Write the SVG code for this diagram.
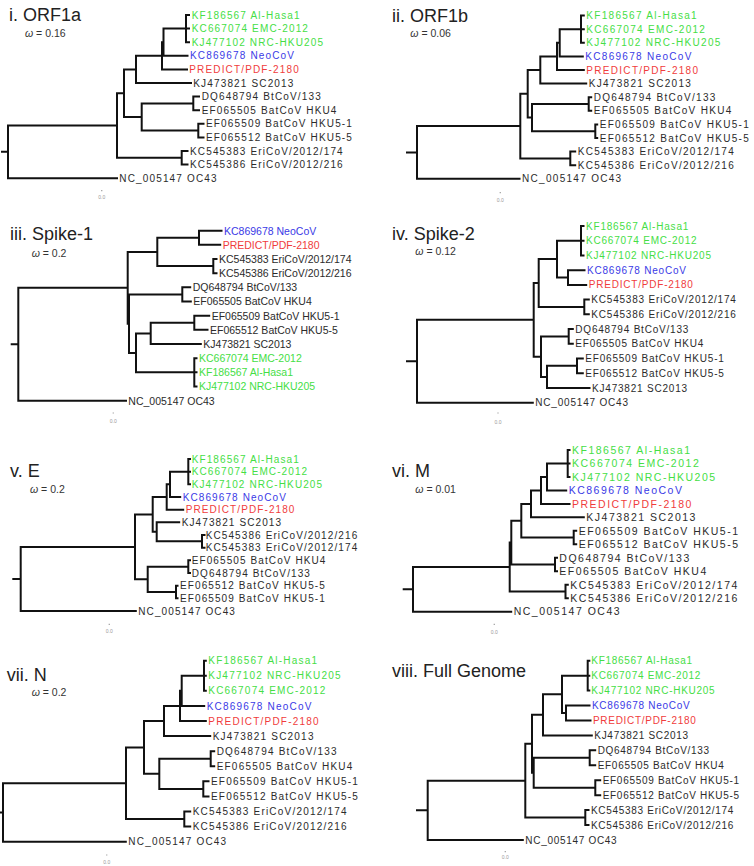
<svg xmlns="http://www.w3.org/2000/svg" width="754" height="866" viewBox="0 0 754 866">
<style>
text{font-family:"Liberation Sans",Arial,sans-serif}
.br{fill:none;stroke:#111;stroke-width:2;stroke-linecap:square}
.tk{fill:none;stroke:#aaa;stroke-width:1.2}
.lab{font-size:10px;fill:#2b2b2b}
.big{font-size:10.5px}
.g{fill:#45de45}.b{fill:#3a3ae6}.r{fill:#f03c3c}
.ttl{font-size:18px;fill:#222}
.om{font-size:10.5px;fill:#333}
.om tspan{font-style:italic}
.sc{font-size:5px;fill:#999;text-anchor:middle}
.s1{letter-spacing:1.15px}.s2{letter-spacing:1.3px}.s3{letter-spacing:0}.s4{letter-spacing:0.8px}
.s5{letter-spacing:1.1px}.s6{letter-spacing:1.5px}.s7{letter-spacing:1.2px}.s8{letter-spacing:0.7px}
</style>
<rect width="754" height="866" fill="#fff"/>
<g id="connectors">
<path class="br" d="M2,151.85H8M8,125.5V178.2M8,178.2H117M8,125.5H117M117,93.2V157.8M117,157.8H181.7M181.7,151V164.6M181.7,151H187.5M181.7,164.6H187.5M117,93.2H124M124,69.4V117M124,117H141.7M141.7,103.4V130.6M141.7,103.4H193.3M193.3,96.6V110.2M193.3,96.6H199M193.3,110.2H199M141.7,130.6H198.3M198.3,123.8V137.4M198.3,123.8H203.5M198.3,137.4H203.5M124,69.4H136M136,55.8V83M136,83H191M136,55.8H162M162,42.2V69.4M162,69.4H187M162,42.2H163.5M163.5,28.6V55.8M163.5,55.8H187.5M163.5,28.6H186M186,15V42.2M186,15H189M186,28.6H189M186,42.2H189"/>
<path class="br" d="M407,152.45H417M417,126.1V178.8M417,178.8H519.5M417,126.1H520.3M520.3,93.8V158.4M520.3,158.4H570.3M570.3,151.6V165.2M570.3,151.6H575.2M570.3,165.2H575.2M520.3,93.8H527.7M527.7,70V117.6M527.7,117.6H532M532,104V131.2M532,104H588.7M588.7,97.2V110.8M588.7,97.2H591.2M588.7,110.8H591.2M532,131.2H595.3M595.3,124.4V138M595.3,124.4H597.2M595.3,138H597.2M527.7,70H540.3M540.3,56.4V83.6M540.3,83.6H586.2M540.3,56.4H557M557,42.8V70M557,70H583.8M557,42.8H559.7M559.7,29.2V56.4M559.7,56.4H582.8M559.7,29.2H581M581,15.6V42.8M581,15.6H583.8M581,29.2H583.8M581,42.8H583.8"/>
<path class="br" d="M11.7,344.26H18.3M18.3,287.81V400.7M18.3,400.7H126M18.3,287.81H127.7M127.7,251.95V323.67M127.7,251.95H157.3M157.3,237.78V266.12M157.3,237.78H199M199,230.7V244.87M199,230.7H221.5M199,244.87H220.2M157.3,266.12H213.3M213.3,259.03V273.2M213.3,259.03H216.5M213.3,273.2H216.5M127.7,323.67H129M129,294.45V352.89M129,294.45H182.3M182.3,287.37V301.53M182.3,287.37H190.2M182.3,301.53H190.8M129,352.89H136M136,333.41V372.37M136,333.41H150.7M150.7,322.78V344.03M150.7,322.78H194.3M194.3,315.7V329.87M194.3,315.7H209.2M194.3,329.87H207.5M150.7,344.03H200.8M136,372.37H194.3M194.3,358.2V386.53M194.3,358.2H196.5M194.3,372.37H196.5M194.3,386.53H196.5"/>
<path class="br" d="M407,361.24H417M417,319.84V402.64M417,402.64H532.8M417,319.84H533.7M533.7,283.04V356.64M533.7,283.04H538.7M538.7,259.12V306.96M538.7,259.12H557M557,240.72V277.52M557,240.72H581M581,226V255.44M581,226H583.5M581,240.72H583.5M581,255.44H583.5M557,277.52H568M568,270.16V284.88M568,270.16H584.5M568,284.88H586.2M538.7,306.96H584.3M584.3,299.6V314.32M584.3,299.6H588.8M584.3,314.32H588.8M533.7,356.64H541M541,336.4V376.88M541,336.4H568.7M568.7,329.04V343.76M568.7,329.04H572.8M568.7,343.76H572.8M541,376.88H547M547,365.84V387.92M547,365.84H577M577,358.48V373.2M577,358.48H582.8M577,373.2H582.8M547,387.92H589.5"/>
<path class="br" d="M13.3,578.94H20.7M20.7,546.88V611M20.7,611H135.8M20.7,546.88H135M135,514.42V579.33M135,514.42H152.7M152.7,497V531.83M152.7,497H166.7M166.7,484.33V509.67M166.7,509.67H183.2M166.7,484.33H170M170,471.67V497M170,497H180.2M170,471.67H188.3M188.3,459V484.33M188.3,459H190M188.3,471.67H190M188.3,484.33H190M152.7,531.83H156.7M156.7,522.33V541.33M156.7,522.33H179.2M156.7,541.33H202M202,535V547.67M202,535H204.5M202,547.67H204.5M135,579.33H147.7M147.7,566.67V592M147.7,566.67H188.3M188.3,560.33V573M188.3,560.33H190M188.3,573H190M147.7,592H176M176,585.67V598.33M176,585.67H177.5M176,598.33H177.5"/>
<path class="br" d="M403.7,589.33H413M413,567.02V611.64M413,611.64H511.2M413,567.02H509.7M509.7,542.61V591.44M509.7,542.61H511.3M511.3,520.72V564.5M511.3,520.72H521.3M521.3,503.88V537.56M521.3,503.88H531M531,490.41V517.35M531,517.35H583.8M531,490.41H541M541,476.94V503.88M541,503.88H569.5M541,476.94H547M547,463.47V490.41M547,490.41H566.2M547,463.47H567.7M567.7,450V476.94M567.7,450H569.5M567.7,463.47H569.5M567.7,476.94H569.5M521.3,537.56H573.7M573.7,530.82V544.29M573.7,530.82H576.2M573.7,544.29H576.2M511.3,564.5H555M555,557.76V571.23M555,557.76H557M555,571.23H557M509.7,591.44H565.5M565.5,584.7V598.17M565.5,584.7H567.8M565.5,598.17H567.8"/>
<path class="br" d="M0,812.44H3M3,783.23V841.66M3,841.66H125.8M3,783.23H126M126,747.41V819.04M126,819.04H184.3M184.3,811.5V826.58M184.3,811.5H190.2M184.3,826.58H190.2M126,747.41H144M144,721.02V773.8M144,773.8H159.3M159.3,758.72V788.88M159.3,758.72H210.7M210.7,751.18V766.26M210.7,751.18H214.2M210.7,766.26H214.2M159.3,788.88H203.3M203.3,781.34V796.42M203.3,781.34H208.5M203.3,796.42H208.5M144,721.02H164M164,705.94V736.1M164,736.1H210.2M164,705.94H180M180,690.86V721.02M180,721.02H205.8M180,690.86H181.7M181.7,675.78V705.94M181.7,705.94H204.2M181.7,675.78H204M204,660.7V690.86M204,660.7H205.8M204,675.78H205.8M204,690.86H205.8"/>
<path class="br" d="M417,810.34H427.7M427.7,780.69V839.98M427.7,839.98H522.8M427.7,780.69H525.3M525.3,743.81V817.57M525.3,817.57H585.3M585.3,810.1V825.04M585.3,810.1H588.5M585.3,825.04H588.5M525.3,743.81H532M532,714.86V772.75M532,772.75H533.7M533.7,757.81V787.69M533.7,757.81H589.7M589.7,750.34V765.28M589.7,750.34H595.2M589.7,765.28H595.2M533.7,787.69H595.3M595.3,780.22V795.16M595.3,780.22H600.2M595.3,795.16H600.2M532,714.86H543M543,694.32V735.4M543,735.4H591.8M543,694.32H562M562,675.64V712.99M562,675.64H587.7M587.7,660.7V690.58M587.7,660.7H589.3M587.7,675.64H589.3M587.7,690.58H589.3M562,712.99H566M566,705.52V720.46M566,705.52H589.5M566,720.46H590.5"/>
<path class="tk" d="M101,190.7H102.4M499.6,192.7H501M112.6,413H114M497.3,413H498.7M108.6,624.3H110M493.6,624.3H495M106,855H107.4M504.6,851.7H506"/>
</g>
<g id="panel-i" class="lab s1">
<g id="i-title"><text class="ttl" x="9" y="21" letter-spacing="0">i. ORF1a</text></g>
<g id="i-omega"><text class="om" x="25" y="37" letter-spacing="0"><tspan>ω</tspan> = 0.16</text></g>
<g id="i-KF186567"><text class="g" x="191.7" y="18.6">KF186567 Al-Hasa1</text></g>
<g id="i-KC667074"><text class="g" x="191.7" y="32.2">KC667074 EMC-2012</text></g>
<g id="i-KJ477102"><text class="g" x="191.7" y="45.8">KJ477102 NRC-HKU205</text></g>
<g id="i-KC869678"><text class="b" x="190" y="59.4">KC869678 NeoCoV</text></g>
<g id="i-PREDICT"><text class="r" x="189.3" y="73">PREDICT/PDF-2180</text></g>
<g id="i-KJ473821"><text x="193.3" y="86.6">KJ473821 SC2013</text></g>
<g id="i-DQ648794"><text x="201.7" y="100.2">DQ648794 BtCoV/133</text></g>
<g id="i-EF065505"><text x="201.7" y="113.8">EF065505 BatCoV HKU4</text></g>
<g id="i-EF065509"><text x="206" y="127.4">EF065509 BatCoV HKU5-1</text></g>
<g id="i-EF065512"><text x="206" y="141">EF065512 BatCoV HKU5-5</text></g>
<g id="i-KC545383"><text x="190" y="154.6">KC545383 EriCoV/2012/174</text></g>
<g id="i-KC545386"><text x="190" y="168.2">KC545386 EriCoV/2012/216</text></g>
<g id="i-NC005147"><text x="119.3" y="181.8">NC_005147 OC43</text></g>
<g id="i-scale"><text class="sc" x="101.7" y="199" letter-spacing="0">0.0</text></g>
</g>
<g id="panel-ii" class="lab s2">
<g id="ii-title"><text class="ttl" x="392" y="21.7" letter-spacing="0">ii. ORF1b</text></g>
<g id="ii-omega"><text class="om" x="410.3" y="37" letter-spacing="0"><tspan>ω</tspan> = 0.06</text></g>
<g id="ii-KF186567"><text class="g" x="586.3" y="19.2">KF186567 Al-Hasa1</text></g>
<g id="ii-KC667074"><text class="g" x="586.3" y="32.8">KC667074 EMC-2012</text></g>
<g id="ii-KJ477102"><text class="g" x="586.3" y="46.4">KJ477102 NRC-HKU205</text></g>
<g id="ii-KC869678"><text class="b" x="585.3" y="60">KC869678 NeoCoV</text></g>
<g id="ii-PREDICT"><text class="r" x="586.3" y="73.6">PREDICT/PDF-2180</text></g>
<g id="ii-KJ473821"><text x="588.7" y="87.2">KJ473821 SC2013</text></g>
<g id="ii-DQ648794"><text x="593.7" y="100.8">DQ648794 BtCoV/133</text></g>
<g id="ii-EF065505"><text x="593.7" y="114.4">EF065505 BatCoV HKU4</text></g>
<g id="ii-EF065509"><text x="599.7" y="128">EF065509 BatCoV HKU5-1</text></g>
<g id="ii-EF065512"><text x="599.7" y="141.6">EF065512 BatCoV HKU5-5</text></g>
<g id="ii-KC545383"><text x="577.7" y="155.2">KC545383 EriCoV/2012/174</text></g>
<g id="ii-KC545386"><text x="577.7" y="168.8">KC545386 EriCoV/2012/216</text></g>
<g id="ii-NC005147"><text x="522" y="182.4">NC_005147 OC43</text></g>
<g id="ii-scale"><text class="sc" x="500.3" y="201.7" letter-spacing="0">0.0</text></g>
</g>
<g id="panel-iii" class="lab big s3">
<g id="iii-title"><text class="ttl" x="10" y="240">iii. Spike-1</text></g>
<g id="iii-omega"><text class="om" x="31.7" y="256.7"><tspan>ω</tspan> = 0.2</text></g>
<g id="iii-KC869678"><text class="b" x="224" y="234.5">KC869678 NeoCoV</text></g>
<g id="iii-PREDICT"><text class="r" x="222.7" y="248.67">PREDICT/PDF-2180</text></g>
<g id="iii-KC545383"><text x="219" y="262.83">KC545383 EriCoV/2012/174</text></g>
<g id="iii-KC545386"><text x="219" y="277">KC545386 EriCoV/2012/216</text></g>
<g id="iii-DQ648794"><text x="192.7" y="291.17">DQ648794 BtCoV/133</text></g>
<g id="iii-EF065505"><text x="193.3" y="305.33">EF065505 BatCoV HKU4</text></g>
<g id="iii-EF065509"><text x="211.7" y="319.5">EF065509 BatCoV HKU5-1</text></g>
<g id="iii-EF065512"><text x="210" y="333.67">EF065512 BatCoV HKU5-5</text></g>
<g id="iii-KJ473821"><text x="203.3" y="347.83">KJ473821 SC2013</text></g>
<g id="iii-KC667074"><text class="g" x="199" y="362">KC667074 EMC-2012</text></g>
<g id="iii-KF186567"><text class="g" x="199" y="376.17">KF186567 Al-Hasa1</text></g>
<g id="iii-KJ477102"><text class="g" x="199" y="390.33">KJ477102 NRC-HKU205</text></g>
<g id="iii-NC005147"><text x="128.3" y="404.5">NC_005147 OC43</text></g>
<g id="iii-scale"><text class="sc" x="113.3" y="422.5">0.0</text></g>
</g>
<g id="panel-iv" class="lab s4">
<g id="iv-title"><text class="ttl" x="392" y="240" letter-spacing="0">iv. Spike-2</text></g>
<g id="iv-omega"><text class="om" x="415.3" y="255" letter-spacing="0"><tspan>ω</tspan> = 0.12</text></g>
<g id="iv-KF186567"><text class="g" x="586" y="229.6">KF186567 Al-Hasa1</text></g>
<g id="iv-KC667074"><text class="g" x="586" y="244.32">KC667074 EMC-2012</text></g>
<g id="iv-KJ477102"><text class="g" x="586" y="259.04">KJ477102 NRC-HKU205</text></g>
<g id="iv-KC869678"><text class="b" x="587" y="273.76">KC869678 NeoCoV</text></g>
<g id="iv-PREDICT"><text class="r" x="588.7" y="288.48">PREDICT/PDF-2180</text></g>
<g id="iv-KC545383"><text x="591.3" y="303.2">KC545383 EriCoV/2012/174</text></g>
<g id="iv-KC545386"><text x="591.3" y="317.92">KC545386 EriCoV/2012/216</text></g>
<g id="iv-DQ648794"><text x="575.3" y="332.64">DQ648794 BtCoV/133</text></g>
<g id="iv-EF065505"><text x="575.3" y="347.36">EF065505 BatCoV HKU4</text></g>
<g id="iv-EF065509"><text x="585.3" y="362.08">EF065509 BatCoV HKU5-1</text></g>
<g id="iv-EF065512"><text x="585.3" y="376.8">EF065512 BatCoV HKU5-5</text></g>
<g id="iv-KJ473821"><text x="592" y="391.52">KJ473821 SC2013</text></g>
<g id="iv-NC005147"><text x="535.3" y="406.24">NC_005147 OC43</text></g>
<g id="iv-scale"><text class="sc" x="498" y="423.5" letter-spacing="0">0.0</text></g>
</g>
<g id="panel-v" class="lab s5">
<g id="v-title"><text class="ttl" x="10" y="476.7" letter-spacing="0">v. E</text></g>
<g id="v-omega"><text class="om" x="30" y="492.8" letter-spacing="0"><tspan>ω</tspan> = 0.2</text></g>
<g id="v-KF186567"><text class="g" x="191.7" y="462.6">KF186567 Al-Hasa1</text></g>
<g id="v-KC667074"><text class="g" x="191.7" y="475.27">KC667074 EMC-2012</text></g>
<g id="v-KJ477102"><text class="g" x="191.7" y="487.93">KJ477102 NRC-HKU205</text></g>
<g id="v-KC869678"><text class="b" x="182.7" y="500.6">KC869678 NeoCoV</text></g>
<g id="v-PREDICT"><text class="r" x="185.7" y="513.27">PREDICT/PDF-2180</text></g>
<g id="v-KJ473821"><text x="181.7" y="525.93">KJ473821 SC2013</text></g>
<g id="v-KC545386"><text x="205.7" y="538.6">KC545386 EriCoV/2012/216</text></g>
<g id="v-KC545383"><text x="205.7" y="551.27">KC545383 EriCoV/2012/174</text></g>
<g id="v-EF065505"><text x="191.7" y="563.93">EF065505 BatCoV HKU4</text></g>
<g id="v-DQ648794"><text x="191.7" y="576.6">DQ648794 BtCoV/133</text></g>
<g id="v-EF065512"><text x="180" y="589.27">EF065512 BatCoV HKU5-5</text></g>
<g id="v-EF065509"><text x="180" y="601.93">EF065509 BatCoV HKU5-1</text></g>
<g id="v-NC005147"><text x="138.3" y="614.6">NC_005147 OC43</text></g>
<g id="v-scale"><text class="sc" x="109.3" y="632.5" letter-spacing="0">0.0</text></g>
</g>
<g id="panel-vi" class="lab big s6">
<g id="vi-title"><text class="ttl" x="392" y="477.3" letter-spacing="0">vi. M</text></g>
<g id="vi-omega"><text class="om" x="415.3" y="492.7" letter-spacing="0"><tspan>ω</tspan> = 0.01</text></g>
<g id="vi-KF186567"><text class="g" x="572" y="453.8">KF186567 Al-Hasa1</text></g>
<g id="vi-KC667074"><text class="g" x="572" y="467.27">KC667074 EMC-2012</text></g>
<g id="vi-KJ477102"><text class="g" x="572" y="480.74">KJ477102 NRC-HKU205</text></g>
<g id="vi-KC869678"><text class="b" x="568.7" y="494.21">KC869678 NeoCoV</text></g>
<g id="vi-PREDICT"><text class="r" x="572" y="507.68">PREDICT/PDF-2180</text></g>
<g id="vi-KJ473821"><text x="586.3" y="521.15">KJ473821 SC2013</text></g>
<g id="vi-EF065509"><text x="578.7" y="534.62">EF065509 BatCoV HKU5-1</text></g>
<g id="vi-EF065512"><text x="578.7" y="548.09">EF065512 BatCoV HKU5-5</text></g>
<g id="vi-DQ648794"><text x="559.3" y="561.56">DQ648794 BtCoV/133</text></g>
<g id="vi-EF065505"><text x="559.3" y="575.03">EF065505 BatCoV HKU4</text></g>
<g id="vi-KC545383"><text x="570.3" y="588.5">KC545383 EriCoV/2012/174</text></g>
<g id="vi-KC545386"><text x="570.3" y="601.97">KC545386 EriCoV/2012/216</text></g>
<g id="vi-NC005147"><text x="513.7" y="615.44">NC_005147 OC43</text></g>
<g id="vi-scale"><text class="sc" x="494.3" y="633.5" letter-spacing="0">0.0</text></g>
</g>
<g id="panel-vii" class="lab s7">
<g id="vii-title"><text class="ttl" x="6.7" y="680.7" letter-spacing="0">vii. N</text></g>
<g id="vii-omega"><text class="om" x="31.7" y="696" letter-spacing="0"><tspan>ω</tspan> = 0.2</text></g>
<g id="vii-KF186567"><text class="g" x="208.3" y="664.3">KF186567 Al-Hasa1</text></g>
<g id="vii-KJ477102"><text class="g" x="208.3" y="679.38">KJ477102 NRC-HKU205</text></g>
<g id="vii-KC667074"><text class="g" x="208.3" y="694.46">KC667074 EMC-2012</text></g>
<g id="vii-KC869678"><text class="b" x="206.7" y="709.54">KC869678 NeoCoV</text></g>
<g id="vii-PREDICT"><text class="r" x="208.3" y="724.62">PREDICT/PDF-2180</text></g>
<g id="vii-KJ473821"><text x="212.7" y="739.7">KJ473821 SC2013</text></g>
<g id="vii-DQ648794"><text x="216.7" y="754.78">DQ648794 BtCoV/133</text></g>
<g id="vii-EF065505"><text x="216.7" y="769.86">EF065505 BatCoV HKU4</text></g>
<g id="vii-EF065509"><text x="211" y="784.94">EF065509 BatCoV HKU5-1</text></g>
<g id="vii-EF065512"><text x="211" y="800.02">EF065512 BatCoV HKU5-5</text></g>
<g id="vii-KC545383"><text x="192.7" y="815.1">KC545383 EriCoV/2012/174</text></g>
<g id="vii-KC545386"><text x="192.7" y="830.18">KC545386 EriCoV/2012/216</text></g>
<g id="vii-NC005147"><text x="128.3" y="845.26">NC_005147 OC43</text></g>
<g id="vii-scale"><text class="sc" x="106.7" y="864" letter-spacing="0">0.0</text></g>
</g>
<g id="panel-viii" class="lab s8">
<g id="viii-title"><text class="ttl" x="392" y="676.7" letter-spacing="0">viii. Full Genome</text></g>
<g id="viii-KF186567"><text class="g" x="591.3" y="664.3">KF186567 Al-Hasa1</text></g>
<g id="viii-KC667074"><text class="g" x="591.3" y="679.24">KC667074 EMC-2012</text></g>
<g id="viii-KJ477102"><text class="g" x="591.3" y="694.18">KJ477102 NRC-HKU205</text></g>
<g id="viii-KC869678"><text class="b" x="592" y="709.12">KC869678 NeoCoV</text></g>
<g id="viii-PREDICT"><text class="r" x="593" y="724.06">PREDICT/PDF-2180</text></g>
<g id="viii-KJ473821"><text x="594.3" y="739">KJ473821 SC2013</text></g>
<g id="viii-DQ648794"><text x="597.7" y="753.94">DQ648794 BtCoV/133</text></g>
<g id="viii-EF065505"><text x="597.7" y="768.88">EF065505 BatCoV HKU4</text></g>
<g id="viii-EF065509"><text x="602.7" y="783.82">EF065509 BatCoV HKU5-1</text></g>
<g id="viii-EF065512"><text x="602.7" y="798.76">EF065512 BatCoV HKU5-5</text></g>
<g id="viii-KC545383"><text x="591" y="813.7">KC545383 EriCoV/2012/174</text></g>
<g id="viii-KC545386"><text x="591" y="828.64">KC545386 EriCoV/2012/216</text></g>
<g id="viii-NC005147"><text x="525.3" y="843.58">NC_005147 OC43</text></g>
<g id="viii-scale"><text class="sc" x="505.3" y="859" letter-spacing="0">0.0</text></g>
</g>
</svg>
